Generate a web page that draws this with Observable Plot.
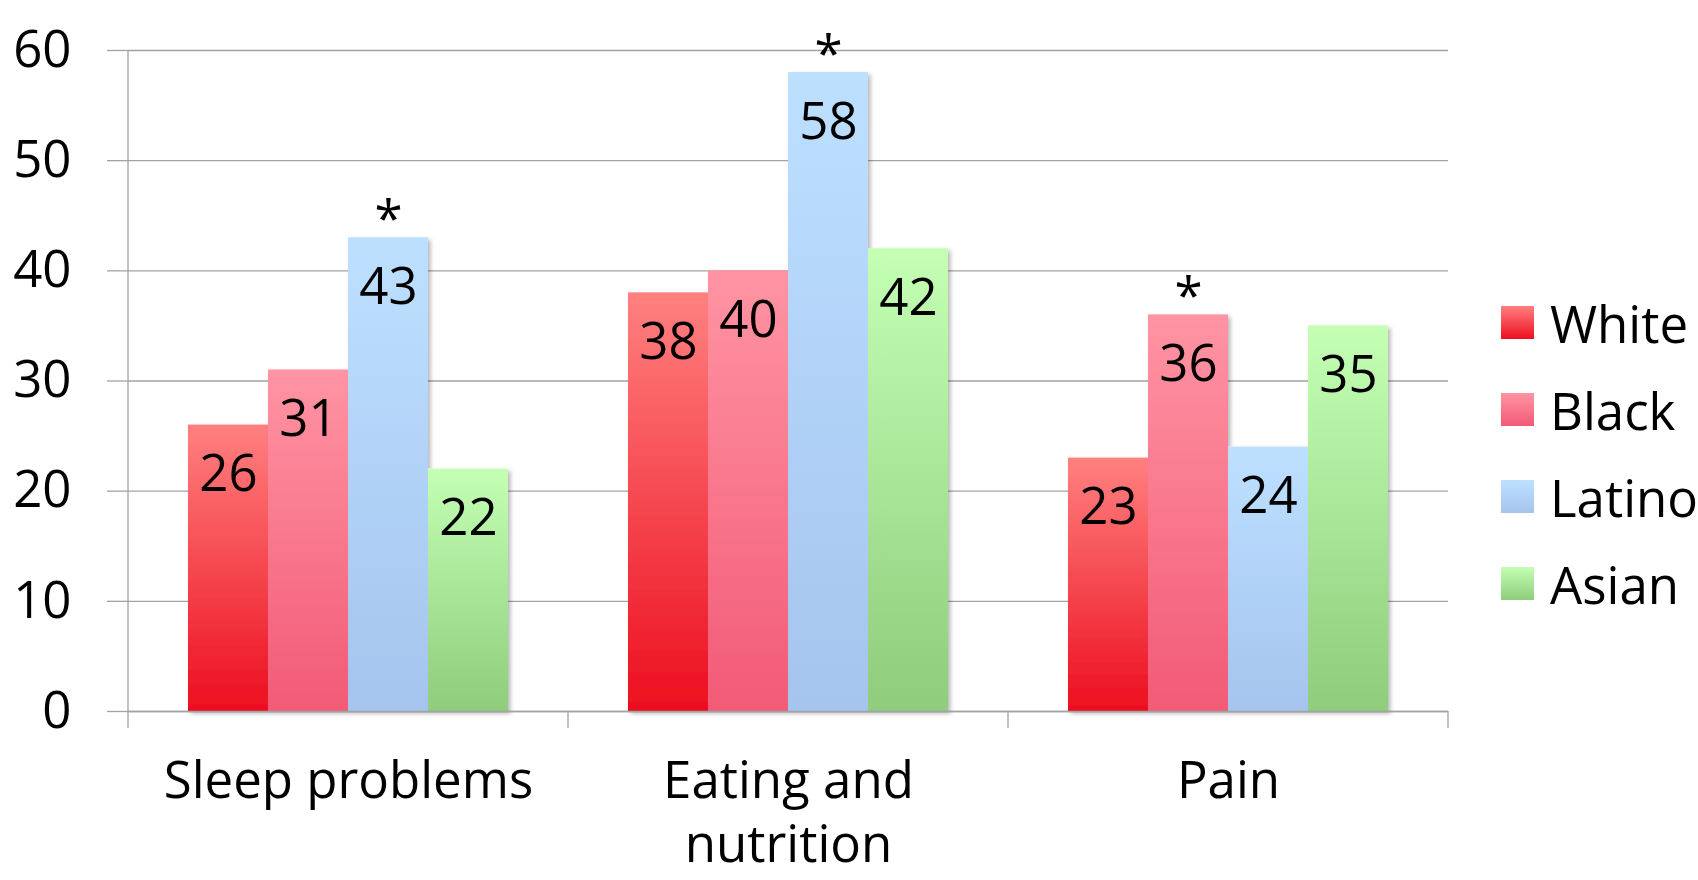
<!DOCTYPE html>
<html>
<head>
<meta charset="utf-8">
<script src="https://cdn.jsdelivr.net/npm/d3@7"></script>
<script src="https://cdn.jsdelivr.net/npm/@observablehq/plot@0.6"></script>
<style>
  html, body { margin: 0; padding: 0; background: #fff; overflow: hidden; }
  #wrap { position: relative; width: 1698px; height: 880px; font-family: "Open Sans", sans-serif; }
  #legend { position: absolute; left: 1501px; top: 279px; }
  .row { height: 87px; display: flex; align-items: center; white-space: nowrap; font-size: 51px; color: #000; }
  .sw { width: 33px; height: 33px; margin-right: 16px; flex: none; }
</style>
</head>
<body>
<div id="wrap"><div id="legend"></div></div>
<script>
// ---- data ----
const categories = ["Sleep problems", "Eating and nutrition", "Pain"];
const categoryLabels = ["Sleep problems", "Eating and\nnutrition", "Pain"];
const groups = ["White", "Black", "Latino", "Asian"];
const white  = [26, 38, 23];
const black  = [31, 40, 36];
const latino = [43, 58, 24];
const asian  = [22, 42, 35];
const yTicks = [0, 10, 20, 30, 40, 50, 60];
// significant differences marked with "*"
const starCategories = ["Sleep problems", "Eating and nutrition", "Pain"];
const starGroups = ["Latino", "Latino", "Black"];

// ---- styles ----
const gradTop    = ["#ff8080", "#ff94a3", "#bde0ff", "#c4ffb4"];
const gradBottom = ["#ec0f1f", "#f25a76", "#a5c4ee", "#8ecd7c"];
const gridColor = "#a3a3a3";

const seriesValues = [white, black, latino, asian];
const data = [];
categories.forEach((c, i) => groups.forEach((g, j) => data.push({category: c, group: g, value: seriesValues[j][i]})));
const stars = starCategories.map((c, k) => data.find(d => d.category === c && d.group === starGroups[k]));

const gradIds = groups.map((g, i) => "grad" + i);
const labelOf = new Map(categories.map((c, i) => [c, categoryLabels[i]]));

const plot = Plot.plot({
  width: 1698,
  height: 880,
  marginLeft: 127,
  marginRight: 249,
  marginTop: 50,
  marginBottom: 169,
  style: {fontFamily: "Open Sans, sans-serif", fontSize: "51px", color: "#000", background: "transparent", overflow: "visible"},
  fx: {domain: categories, padding: 0, label: null},
  x: {domain: groups, paddingInner: 0, paddingOuter: 0.73, axis: null},
  y: {domain: [0, 60], label: null},
  color: {type: "ordinal", domain: groups, range: gradIds.map(id => `url(#${id})`)},
  marks: [
    Plot.gridY(yTicks, {stroke: gridColor, strokeOpacity: 1, strokeWidth: 1.3}),
    Plot.axisY(yTicks, {anchor: "left", tickSize: 21, tickPadding: 36, stroke: gridColor, strokeOpacity: 1, strokeWidth: 1.3, fill: "#000", fontSize: 51, label: null}),
    Plot.axisFx({anchor: "bottom", tickSize: 0, tickPadding: 41, label: null, fontSize: 51, fill: "#000", lineHeight: 1.25, tickFormat: d => labelOf.get(d)}),
    Plot.barY(data, {fx: "category", x: "group", y: "value", fill: "group"}),
    Plot.ruleY([0], {stroke: gridColor, strokeWidth: 1.3}),
    Plot.text(data, {fx: "category", x: "group", y: "value", text: d => String(d.value), dy: 50, lineAnchor: "middle", fontSize: 51, fill: "#000"}),
    Plot.text(stars, {fx: "category", x: "group", y: "value", text: () => "*", dy: -17, lineAnchor: "middle", fontSize: 51, fill: "#000"})
  ]
});

// gradients and shadow
const svg = d3.select(plot);
const defs = svg.insert("defs", ":first-child");
groups.forEach((g, i) => {
  const lg = defs.append("linearGradient").attr("id", gradIds[i]).attr("x1", 0).attr("y1", 0).attr("x2", 0).attr("y2", 1);
  lg.append("stop").attr("offset", "0%").attr("stop-color", gradTop[i]);
  lg.append("stop").attr("offset", "100%").attr("stop-color", gradBottom[i]);
});
const f = defs.append("filter").attr("id", "shadow").attr("x", "-10%").attr("y", "-10%").attr("width", "130%").attr("height", "130%");
f.append("feDropShadow").attr("dx", 2.5).attr("dy", 2.5).attr("stdDeviation", 2).attr("flood-color", "#000").attr("flood-opacity", 0.28);
svg.selectAll('g[aria-label="bar"]').attr("filter", "url(#shadow)");

// y-axis line and category separators from the plot's scales
const fxS = plot.scale("fx");
const yS = plot.scale("y");
const y0 = yS.apply(0);
const tickLen = 17;
const gAx = svg.append("g").attr("stroke", gridColor).attr("stroke-width", 1.3);
const bounds = categories.map(c => fxS.apply(c)).concat([fxS.apply(categories[categories.length - 1]) + fxS.bandwidth]);
bounds.forEach((bx, i) => {
  gAx.append("line").attr("x1", bx).attr("x2", bx)
    .attr("y1", i === 0 ? yS.apply(60) : y0).attr("y2", y0 + tickLen);
});

document.getElementById("wrap").prepend(plot);

// legend
const legend = d3.select("#legend");
groups.forEach((g, i) => {
  const r = legend.append("div").attr("class", "row");
  r.append("div").attr("class", "sw").style("background", `linear-gradient(to bottom, ${gradTop[i]}, ${gradBottom[i]})`);
  r.append("span").text(g);
});
</script>
</body>
</html>
